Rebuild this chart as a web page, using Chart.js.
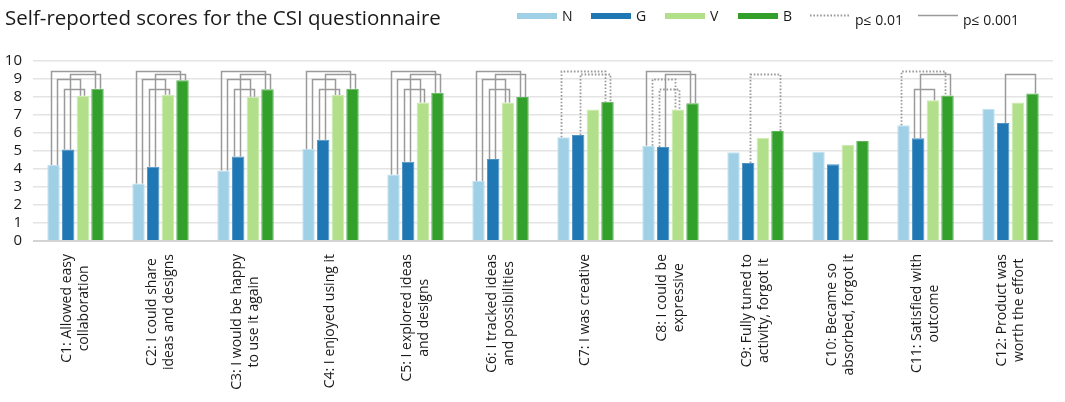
<!DOCTYPE html>
<html>
<head>
<meta charset="utf-8">
<script src="https://cdn.jsdelivr.net/npm/chart.js@4.4.1/dist/chart.umd.min.js"></script>
<style>
  html, body { margin: 0; padding: 0; background: #fff; }
  #wrap { width: 1065px; height: 402px; }
</style>
</head>
<body>
<div id="wrap"><canvas id="myChart" width="1065" height="402"></canvas></div>
<script>
'use strict';
const categories = [
  ['C1: Allowed easy', 'collaboration'],
  ['C2: I could share', 'ideas and designs'],
  ['C3: I would be happy', 'to use it again'],
  ['C4: I enjoyed using it'],
  ['C5: I explored ideas', 'and designs'],
  ['C6: I tracked ideas', 'and possibilities'],
  ['C7: I was creative'],
  ['C8: I could be', 'expressive'],
  ['C9: Fully tuned to', 'activity, forgot it'],
  ['C10: Became so', 'absorbed, forgot it'],
  ['C11: Satisfied with', 'outcome'],
  ['C12: Product was', 'worth the effort']
];
const seriesNames = ['N', 'G', 'V', 'B'];
const scoresN = [4.22, 3.2, 3.91, 5.11, 3.7, 3.33, 5.76, 5.29, 4.93, 4.94, 6.43, 7.35];
const scoresG = [5.09, 4.13, 4.69, 5.63, 4.4, 4.56, 5.89, 5.22, 4.33, 4.26, 5.71, 6.56];
const scoresV = [8.07, 8.13, 8.02, 8.11, 7.7, 7.7, 7.3, 7.3, 5.72, 5.35, 7.82, 7.69];
const scoresB = [8.46, 8.93, 8.43, 8.46, 8.24, 8.0, 7.74, 7.65, 6.11, 5.56, 8.09, 8.2];
const yTicks = [0, 1, 2, 3, 4, 5, 6, 7, 8, 9, 10];

// significance between two groups per question: 's' = p<=0.001, 'd' = p<=0.01
const sigNB = ['s', 's', 's', 's', 's', 's', 'd', 's', null, null, 'd', null];
const sigGB = ['s', 's', 's', 's', 's', 's', 'd', 's', 'd', null, 's', 's'];
const sigNV = ['s', 's', 's', 's', 's', 's', null, 'd', null, null, null, null];
const sigGV = ['s', 's', 's', 's', 's', 's', null, 'd', null, null, 's', null];
const sigLabels = ['p\u2264 0.01', 'p\u2264 0.001'];

const colors = ['#9fd0e6', '#1f78b4', '#b2df8a', '#33a02c'];
const edgeColors = ['#c2e2f1', '#4d93c4', '#cdebb2', '#5cb556'];
const FONT = "'Open Sans', 'Noto Sans', sans-serif";
const LINE_GRAY = '#9a9a9a';

// which bars each bracket joins, its height and where on the bars the legs sit
const brackets = [
  { sig: sigNB, from: 0, to: 3, level: 9.45, fromPos: 0.33, toPos: 0.33 },
  { sig: sigGB, from: 1, to: 3, level: 9.26, fromPos: 0.62, toPos: 0.67 },
  { sig: sigNV, from: 0, to: 2, level: 8.98, fromPos: 0.75, toPos: 0.25 },
  { sig: sigGV, from: 1, to: 2, level: 8.46, fromPos: 0.2, toPos: 0.6 }
];

function setLine(ctx, kind) {
  ctx.strokeStyle = LINE_GRAY;
  if (kind === 'd') {
    ctx.lineWidth = 1.8;
    ctx.setLineDash([1.6, 1.8]);
  } else {
    ctx.lineWidth = 1.5;
    ctx.setLineDash([]);
  }
}

const extras = {
  id: 'extras',
  afterDatasetsDraw(chart) {
    const ctx = chart.ctx;
    const yScale = chart.scales.y;
    ctx.save();
    categories.forEach(function (c, i) {
      brackets.forEach(function (b) {
        const kind = b.sig[i];
        if (!kind) return;
        const bar1 = chart.getDatasetMeta(b.from).data[i];
        const bar2 = chart.getDatasetMeta(b.to).data[i];
        const x1 = Math.round(bar1.x - bar1.width / 2 + b.fromPos * bar1.width) + 0.5;
        const x2 = Math.round(bar2.x - bar2.width / 2 + b.toPos * bar2.width) + 0.5;
        const ly = Math.round(yScale.getPixelForValue(b.level)) + 0.5;
        setLine(ctx, kind);
        ctx.beginPath();
        ctx.moveTo(x1, bar1.y);
        ctx.lineTo(x1, ly);
        ctx.lineTo(x2, ly);
        ctx.lineTo(x2, bar2.y);
        ctx.stroke();
      });
    });
    ctx.restore();
  },
  afterDraw(chart) {
    const ctx = chart.ctx;
    const xScale = chart.scales.x;
    ctx.save();

    // title
    ctx.fillStyle = '#1a1a1a';
    ctx.font = '20.5px ' + FONT;
    ctx.textAlign = 'left';
    ctx.textBaseline = 'alphabetic';
    ctx.fillText('Self-reported scores for the CSI questionnaire', 5, 25);

    // legend
    ctx.font = '14px ' + FONT;
    const legendX = [517, 591, 665, 738];
    seriesNames.forEach(function (name, k) {
      ctx.fillStyle = colors[k];
      ctx.fillRect(legendX[k], 13, 40, 6);
      ctx.fillStyle = '#1a1a1a';
      ctx.fillText(name, legendX[k] + 45, 21);
    });
    setLine(ctx, 'd');
    ctx.beginPath();
    ctx.moveTo(810, 15.5);
    ctx.lineTo(850, 15.5);
    ctx.stroke();
    setLine(ctx, 's');
    ctx.beginPath();
    ctx.moveTo(918, 15.5);
    ctx.lineTo(958, 15.5);
    ctx.stroke();
    ctx.fillText(sigLabels[0], 855, 25);
    ctx.fillText(sigLabels[1], 963, 25);

    // rotated category labels, lines centred on each other
    ctx.font = '14px ' + FONT;
    ctx.fillStyle = '#1a1a1a';
    ctx.textAlign = 'center';
    ctx.textBaseline = 'middle';
    const lh = 17;
    categories.forEach(function (lines, i) {
      const x = xScale.getPixelForValue(i);
      let maxW = 0;
      lines.forEach(function (t) { maxW = Math.max(maxW, ctx.measureText(t).width); });
      ctx.save();
      ctx.translate(x, 254 + maxW / 2);
      ctx.rotate(-Math.PI / 2);
      lines.forEach(function (t, j) {
        ctx.fillText(t, 0, (j - (lines.length - 1) / 2) * lh);
      });
      ctx.restore();
    });
    ctx.restore();
  }
};

const seriesData = [scoresN, scoresG, scoresV, scoresB];
const ctx = document.getElementById('myChart').getContext('2d');
const myChart = new Chart(ctx, {
  type: 'bar',
  data: {
    labels: categories.map(function (c) { return c.join(' '); }),
    datasets: seriesNames.map(function (name, k) {
      return {
        label: name,
        data: seriesData[k],
        backgroundColor: colors[k],
        borderColor: edgeColors[k],
        borderWidth: 1,
        categoryPercentage: 0.69,
        barPercentage: 0.85
      };
    })
  },
  options: {
    responsive: false,
    animation: false,
    devicePixelRatio: 1,
    layout: { padding: { top: 61, right: 12, left: 0, bottom: 0 } },
    plugins: {
      legend: { display: false },
      title: { display: false },
      tooltip: { enabled: false }
    },
    scales: {
      x: {
        grid: { display: false },
        border: { display: false },
        ticks: { display: false },
        afterFit: function (s) { s.height = 161; }
      },
      y: {
        min: 0,
        max: 10,
        afterBuildTicks: function (s) { s.ticks = yTicks.map(function (v) { return { value: v }; }); },
        ticks: {
          autoSkip: false,
          color: '#1a1a1a',
          padding: 11,
          font: { family: FONT, size: 15 }
        },
        grid: {
          drawTicks: false,
          color: function (c) { return c.tick && c.tick.value === 0 ? '#d4d4d4' : '#e4e4e4'; },
          lineWidth: function (c) { return c.tick && c.tick.value === 0 ? 2 : 1.5; }
        },
        border: { display: false },
        afterFit: function (s) { s.width = 33; }
      }
    }
  },
  plugins: [extras]
});
</script>
</body>
</html>
